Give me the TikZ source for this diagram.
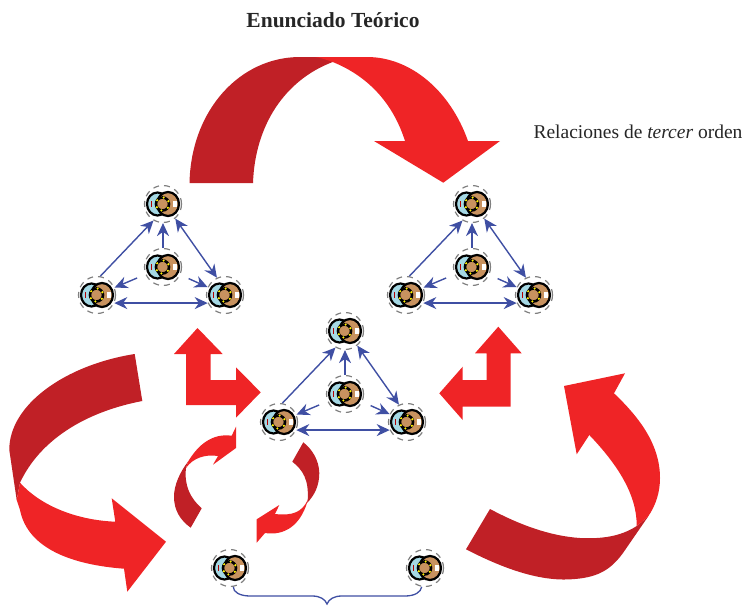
\documentclass[tikz,border=0pt]{standalone}
\usepackage{fontspec}
\setmainfont{Liberation Serif}
\usetikzlibrary{arrows.meta}
\definecolor{ribbonred}{HTML}{EF2426}
\definecolor{ribbondark}{HTML}{C02026}
\definecolor{linkblue}{HTML}{3F4FA3}
\definecolor{skinbrown}{HTML}{C8925F}
\definecolor{skinblue}{HTML}{A5D8E4}
\tikzset{
  ribbon/.style={fill=ribbondark},
  face/.style={fill=ribbonred},
  actor/.style={circle,draw=gray,line width=1.2pt,dash pattern=on 6pt off 5pt,minimum size=37pt,inner sep=0pt,
    path picture={
      \begin{scope}[shift={(path picture bounding box.center)},solid,draw=black]
      \draw [fill=skinblue,line width=2.2pt] (-5.5,0) ellipse [x radius=10.5,y radius=11.5];
      \draw [fill=skinbrown,line width=2.2pt] (5,0) ellipse [x radius=11,y radius=12];
      \draw [fill=skinbrown,line width=2.6pt] (-.5,0) circle [radius=6.5];
      \foreach \a in {35,100,150,215,280,335}
        \fill [yellow] (-.5,0) ++(\a:6.5) circle [radius=1.2];
      \fill [red!70!black] (-12.5,-3) rectangle (-11,3);
      \fill [white] (10,-3) rectangle (13.5,3);
      \end{scope}
    }},
  link/.style={draw=linkblue,line width=1.4pt,-{Stealth[length=13pt,width=12pt]}},
  dlink/.style={draw=linkblue,line width=1.4pt,{Stealth[length=13pt,width=12pt]}-{Stealth[length=13pt,width=12pt]}}
}
\begin{document}
\begin{tikzpicture}[x=1pt,y=-1pt]
\useasboundingbox (0,0) rectangle (744,605);

% big top arrow
\fill [ribbon] (189.5,183) .. controls (191,110) and (240,57) .. (300,57) -- (350,57) -- (332.7,62)
  .. controls (285,80) and (255,125) .. (253,183) -- cycle;
\fill [face] (332.7,62) .. controls (365,75) and (392,100) .. (405,141) -- (374,141) -- (443.3,182.7) -- (500,141) -- (468,141)
  .. controls (450,90) and (410,57) .. (367,57) -- (315,57) .. controls (322,58) and (327,60) .. (332.7,62) -- cycle;

% left arrow
\fill [ribbon] (134.7,354) -- (142.3,401) .. controls (85,412) and (40,440) .. (20,482.7) -- (16.7,500) -- (9.3,450)
  .. controls (9,405) and (65,365) .. (134.7,354) -- cycle;
\fill [face] (20,482.7) .. controls (40,505) and (75,520) .. (115.3,521.7) -- (111.7,498.3) -- (166,541.7) -- (127.3,591.7)
  -- (124,568.7) .. controls (75,565) and (28,550) .. (20,510) -- (16.7,500) -- cycle;

% right arrow
\fill [ribbon] (490,509) -- (466,549.3) .. controls (510,572) and (545,582) .. (575,579) .. controls (600,577) and (612,568) .. (623,553)
  -- (648,516.7) -- (636.7,526) .. controls (620,537) and (600,539) .. (580,538) .. controls (550,536) and (520,525) .. (490,509) -- cycle;
\fill [face] (636.7,526) .. controls (637,495) and (618,465) .. (589.3,435) -- (576.7,454.3) -- (564,386) -- (625,373.3) -- (614,393.3)
  .. controls (640,418) and (660,445) .. (660,478) .. controls (660,492) and (656,505) .. (648,516.7) -- cycle;

% L arrows
\fill [face] (197.5,328) -- (222.7,354) -- (210.7,354) -- (210.7,380) -- (236,380) -- (236,367.3) -- (260.7,392.3) -- (236,417.7)
  -- (236,405) -- (186,405) -- (186,354) -- (174,354) -- cycle;
\fill [face] (498.3,326.7) -- (521.7,353.3) -- (510.7,353.3) -- (510.7,406.7) -- (462.7,406.7) -- (462.7,420) -- (439.3,393.3)
  -- (462.7,366.7) -- (462.7,380) -- (486.7,380) -- (486.7,353.3) -- (475,353.3) -- cycle;

% small curls
\fill [ribbon] (201.7,508.3) -- (190.7,527.7) .. controls (180,520) and (174,510) .. (174,496.7) .. controls (174,485) and (180,472) .. (188,461.7)
  -- (186,468) .. controls (184,485) and (190,498) .. (201.7,508.3) -- cycle;
\fill [face] (236,426.7) -- (231.7,435.7) .. controls (212,433) and (198,445) .. (188,461.7) -- (186,468)
  .. controls (193,458) and (205,454) .. (218,456) -- (213,464.7) -- (236,448) -- cycle;
\fill [ribbon] (303.3,442.3) -- (292.3,461.7) .. controls (303,470) and (309,480) .. (307.7,500) -- (306.7,503.3)
  .. controls (315,495) and (319.3,485) .. (319.3,473) .. controls (319,460) and (312,449) .. (303.3,442.3) -- cycle;
\fill [face] (307.7,500) .. controls (302,512) and (293,516) .. (275,514) -- (279.3,505) -- (256.7,519.3) -- (256.7,542.7) -- (265,533)
  .. controls (285,536) and (300,525) .. (307,503) -- cycle;

% actors
\foreach \t/\dx/\dy in {a/0/0,b/309/0,c/182/127}{
  \begin{scope}[shift={(\dx,\dy)}]
  \node [actor] (\t-top) at (163,204) {};
  \node [actor] (\t-mid) at (163,267) {};
  \node [actor] (\t-left) at (97,295) {};
  \node [actor] (\t-right) at (225,295) {};
  \end{scope}
  \path
  (\t-left.80) edge [link] (\t-top.240)
  (\t-mid.north) edge [link] (\t-top.south)
  (\t-mid) edge [link,shorten <=9pt] (\t-left)
  (\t-mid) edge [link,shorten <=9pt] (\t-right)
  (\t-top.-50) edge [dlink] (\t-right.115)
  (\t-left.-25) edge [dlink] (\t-right.205);
}
\node [actor] (ind-a) at (230,568) {};
\node [actor] (ind-b) at (425,568) {};

% brace
\draw [linkblue,line width=1.3pt] (ind-a.-80) .. controls (233,592) and (240,596) .. (250,596) -- (312,596)
  .. controls (320,596) and (325,599) .. (327,604) .. controls (329,599) and (334,596) .. (342,596) -- (405,596)
  .. controls (415,596) and (421,592) .. (ind-b.-100);

\node [font=\bfseries\fontsize{21.5}{24}\selectfont,text=black!85] (title) at (333,20) {Enunciado Teórico};
\node [font=\fontsize{19.5}{23}\selectfont,text=black!85] (order) at (638,132) {Relaciones de \textit{tercer} orden};
\end{tikzpicture}
\end{document}
